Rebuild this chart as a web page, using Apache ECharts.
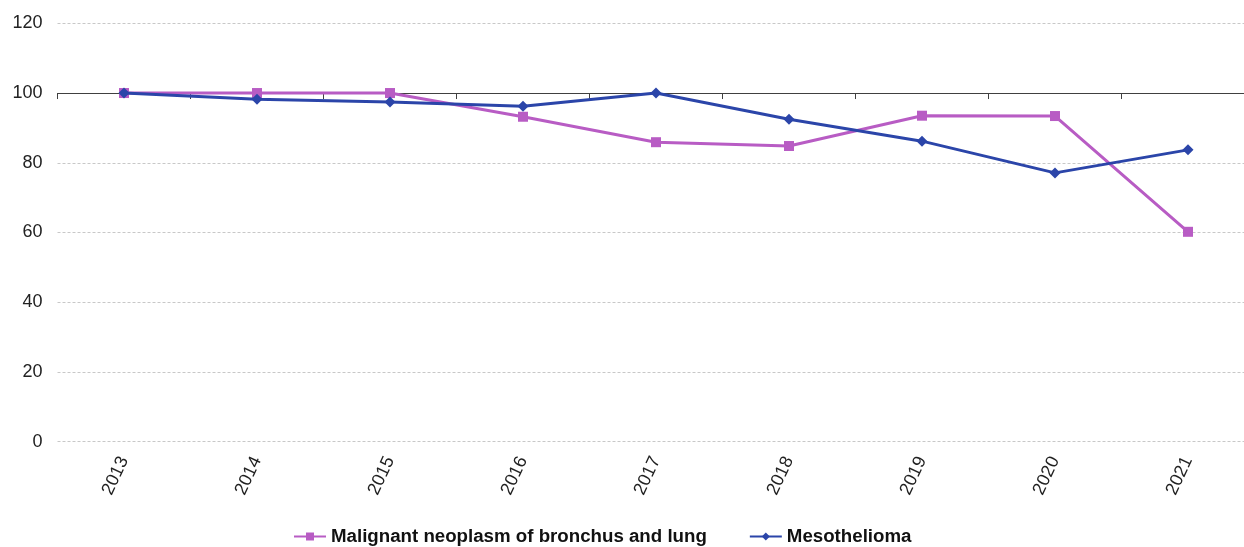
<!DOCTYPE html>
<html>
<head>
<meta charset="utf-8">
<title>Index, 2013 = 100</title>
<script src="https://cdn.jsdelivr.net/npm/echarts@6/dist/echarts.min.js"></script>
<style>
  html, body { margin: 0; padding: 0; background: #fff; overflow: hidden; }
  #chart { width: 1244px; height: 547px; }
</style>
</head>
<body>
<div id="chart"></div>
<script>
// Index values, 2013 = 100
const years = ['2013', '2014', '2015', '2016', '2017', '2018', '2019', '2020', '2021'];
const lungCancer = [100, 100, 100, 93.2, 85.9, 84.8, 93.5, 93.4, 60.2];
const mesothelioma = [100, 98.2, 97.4, 96.2, 100, 92.5, 86.2, 77.1, 83.7];
const yTicks = { min: 0, max: 120, step: 20 };
const baseIndex = 100; // category axis line crosses the value axis here

const font = '"Liberation Sans", Arial, sans-serif';
const chart = echarts.init(document.getElementById('chart'), null, { renderer: 'canvas' });

chart.setOption({
  animation: false,
  textStyle: { fontFamily: font },
  // plot area runs slightly past the right edge of the canvas
  grid: { left: 57.5, width: 1197, top: 23.3, bottom: 105.3, containLabel: false, outerBoundsMode: 'none' },
  xAxis: [
    {
      type: 'category',
      data: years,
      boundaryGap: true,
      axisLine: { show: false },
      axisTick: { show: false },
      axisLabel: { rotate: 65, fontSize: 18, color: '#222', margin: 16, fontFamily: font }
    },
    {
      // baseline drawn at the base index value
      type: 'category',
      data: years,
      boundaryGap: true,
      position: 'bottom',
      axisLine: { show: true, onZero: true, onZeroAxisIndex: 1, lineStyle: { color: '#404040', width: 1 } },
      axisTick: { show: true, length: 6, lineStyle: { color: '#404040', width: 1 } },
      axisLabel: { show: false },
      splitLine: { show: false }
    }
  ],
  yAxis: [
    {
      type: 'value',
      min: yTicks.min,
      max: yTicks.max,
      interval: yTicks.step,
      axisLine: { show: false },
      axisTick: { show: false },
      axisLabel: { fontSize: 18, color: '#222', margin: 15, fontFamily: font },
      splitLine: { lineStyle: { color: '#c8c8c8', type: [3, 2], width: 1 } }
    },
    {
      // same scale shifted so that its zero sits at the base index
      type: 'value',
      show: false,
      min: yTicks.min - baseIndex,
      max: yTicks.max - baseIndex,
      splitLine: { show: false }
    }
  ],
  legend: {
    bottom: 1,
    left: 293,
    padding: 0,
    itemWidth: 32,
    itemHeight: 10,
    itemGap: 42,
    textStyle: { fontSize: 18.7, fontWeight: 'bold', color: '#111', fontFamily: font },
    data: ['Malignant neoplasm of bronchus and lung', 'Mesothelioma']
  },
  series: [
    {
      name: 'Malignant neoplasm of bronchus and lung',
      type: 'line',
      data: lungCancer,
      xAxisIndex: 0,
      yAxisIndex: 0,
      symbol: 'rect',
      symbolSize: 10,
      lineStyle: { color: '#b85cc4', width: 3 },
      itemStyle: { color: '#b85cc4' },
      z: 3
    },
    {
      name: 'Mesothelioma',
      type: 'line',
      data: mesothelioma,
      xAxisIndex: 0,
      yAxisIndex: 0,
      symbol: 'diamond',
      symbolSize: 11,
      lineStyle: { color: '#2b45a9', width: 3 },
      itemStyle: { color: '#2b45a9' },
      z: 4
    }
  ]
});
</script>
</body>
</html>
